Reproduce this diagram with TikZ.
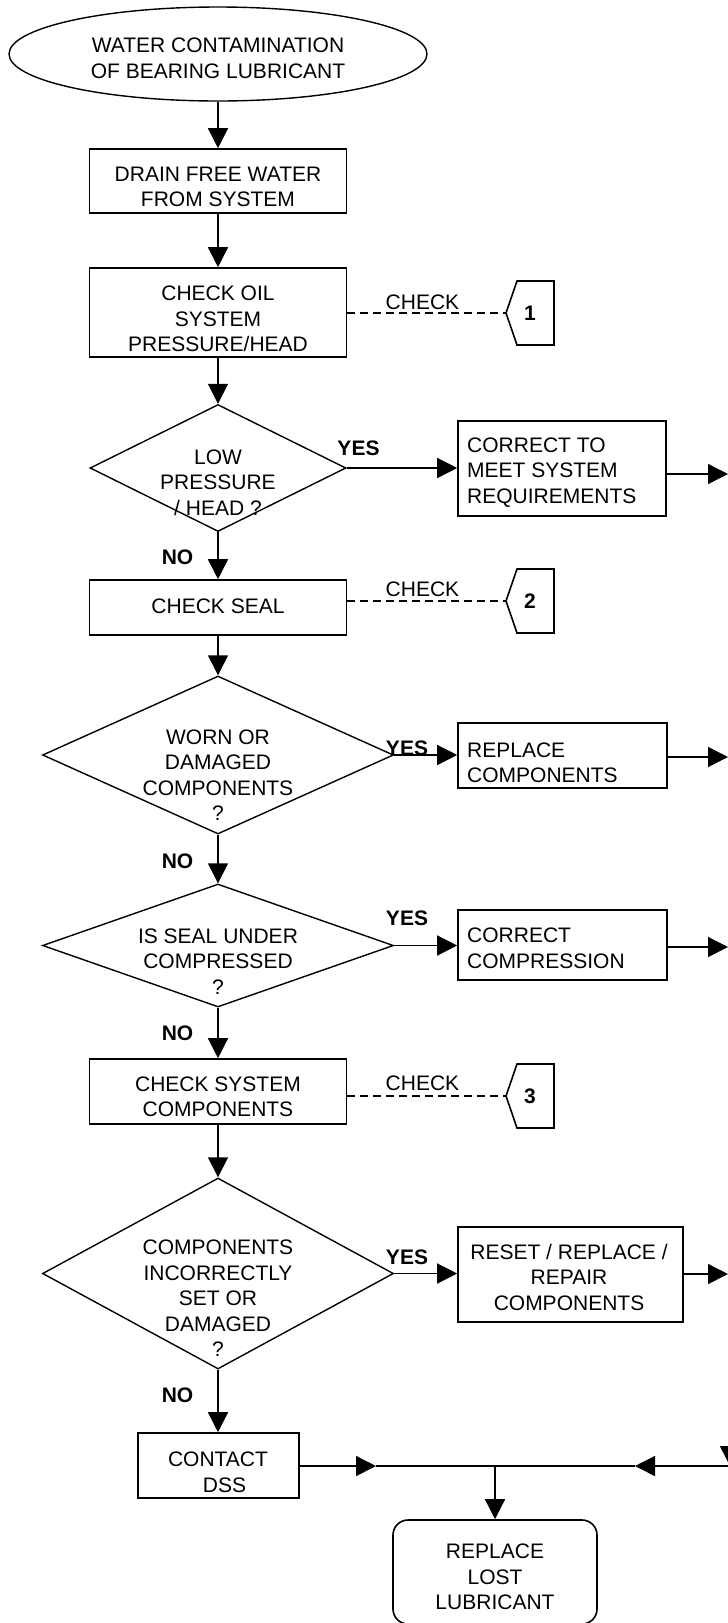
\documentclass[tikz,border=0pt]{standalone}
\usepackage{fontspec}
\setmainfont{Liberation Sans}
\usetikzlibrary{arrows.meta,shapes.geometric}

\begin{document}
\begin{tikzpicture}[x=1pt,y=-1pt,
  every node/.style={font=\fontsize{21}{25.5}\selectfont},
  txt/.style={inner sep=0pt, align=center},
  ltxt/.style={inner sep=0pt, align=left, anchor=west},
  proc/.style={draw, rectangle, line width=1.6pt, inner sep=0pt},
  decision/.style={draw, diamond, line width=1.4pt, inner sep=0pt},
  term/.style={draw, ellipse, line width=1.4pt, inner sep=0pt},
  finalbox/.style={draw, rectangle, rounded corners=15pt, line width=1.6pt, inner sep=0pt},
  flow/.style={line width=1.4pt, -{Triangle[length=20pt,width=20pt]}},
  plain/.style={line width=1.4pt},
  checkline/.style={line width=1.3pt, dash pattern=on 8pt off 5pt},
  callout/.style={line width=1.6pt, line join=miter},
  yn/.style={inner sep=0pt, font=\fontsize{21}{25.5}\selectfont\bfseries},
]
% canvas
\path[fill=white,use as bounding box] (0,0) rectangle (728,1623);

% ---------------- shapes ----------------
\node[term, minimum width=418pt, minimum height=94pt] (start) at (218,54) {};
\node[txt] (starttxt) at (218,58.5) {WATER CONTAMINATION\\OF BEARING LUBRICANT};

\node[proc, minimum width=257pt, minimum height=64pt] (drain) at (218,181) {};
\node[txt] (draintxt) at (218,187) {DRAIN FREE WATER\\FROM SYSTEM};

\node[proc, minimum width=257pt, minimum height=89pt] (oil) at (218,312.5) {};
\node[txt] (oiltxt) at (218,319) {CHECK OIL\\SYSTEM\\PRESSURE/HEAD};

\node[decision, minimum width=256pt, minimum height=127pt] (low) at (218,468) {};
\node[txt] (lowtxt) at (218,482.5) {LOW\\PRESSURE\\/ HEAD ?};

\node[proc, minimum width=257pt, minimum height=55pt] (seal) at (218,607.5) {};
\node[txt] (sealtxt) at (218,606) {CHECK SEAL};

\node[decision, minimum width=351pt, minimum height=158pt] (worn) at (218,755) {};
\node[txt] (worntxt) at (218,775) {WORN OR\\DAMAGED\\COMPONENTS\\?};

\node[decision, minimum width=351pt, minimum height=123pt] (under) at (218,945.5) {};
\node[txt] (undertxt) at (218,961.5) {IS SEAL UNDER\\COMPRESSED\\?};

\node[proc, minimum width=257pt, minimum height=65pt] (sys) at (218,1091.5) {};
\node[txt] (systxt) at (218,1097) {CHECK SYSTEM\\COMPONENTS};

\node[decision, minimum width=351pt, minimum height=191pt] (incorr) at (218,1273.5) {};
\node[txt] (incorrtxt) at (218,1298.5) {COMPONENTS\\INCORRECTLY\\SET OR\\DAMAGED\\?};

\node[proc, minimum width=161pt, minimum height=65pt] (dss) at (218.5,1465.5) {};
\node[txt] (dsstxt) at (218,1472.5) {CONTACT\\\hspace*{13pt}DSS};

% action boxes on the right
\node[proc, minimum width=208pt, minimum height=95pt] (meet) at (562,468.5) {};
\node[ltxt] (meettxt) at (467,472.5) {CORRECT TO\\MEET SYSTEM\\REQUIREMENTS};

\node[proc, minimum width=209pt, minimum height=65pt] (repl) at (562.5,755.5) {};
\node[ltxt] (repltxt) at (467,763) {REPLACE\\COMPONENTS};

\node[proc, minimum width=209pt, minimum height=70pt] (comp) at (562.5,945) {};
\node[ltxt] (comptxt) at (467,948.5) {CORRECT\\COMPRESSION};

\node[proc, minimum width=225pt, minimum height=95pt] (reset) at (570.5,1274.5) {};
\node[txt] (resettxt) at (569,1277) {RESET / REPLACE /\\REPAIR\\COMPONENTS};

\node[finalbox, minimum width=204pt, minimum height=104pt] (lost) at (495,1572) {};
\node[txt] (losttxt) at (495,1577) {REPLACE\\LOST\\LUBRICANT};

% ---------------- check references ----------------
\coordinate (c1) at (506,313);
\coordinate (c2) at (506,601);
\coordinate (c3) at (506,1096);
\foreach \c in {c1,c2,c3}{
  \draw[callout] (\c) -- ++(11,-32) -- ++(37,0) -- ++(0,64) -- ++(-37,0) -- cycle;
}
\node[yn] (n1) at (530,313) {1};
\node[yn] (n2) at (530,601) {2};
\node[yn] (n3) at (530,1096) {3};

\draw[checkline] (oil.east |- c1) -- (c1);
\draw[checkline] (seal.east |- c2) -- (c2);
\draw[checkline] (sys.east |- c3) -- (c3);
\node[txt] (chk1) at (422.5,302) {CHECK};
\node[txt] (chk2) at (422.5,589) {CHECK};
\node[txt] (chk3) at (422.5,1083) {CHECK};

% ---------------- main flow ----------------
\draw[flow] (start.south) -- (drain.north);
\draw[flow] (drain.south) -- (oil.north);
\draw[flow] (oil.south) -- (low.north);
\draw[flow] (low.south) -- (seal.north);
\draw[flow] (seal.south) -- (worn.north);
\draw[flow] (worn.south) -- (under.north);
\draw[flow] (under.south) -- (sys.north);
\draw[flow] (sys.south) -- (incorr.north);
\draw[flow] (incorr.south) -- (dss.north -| incorr.south);

\node[yn] (no1) at (177.5,557) {NO};
\node[yn] (no2) at (177.5,861) {NO};
\node[yn] (no3) at (177.5,1033) {NO};
\node[yn] (no4) at (177.5,1395) {NO};

% yes branches
\draw[flow] (low.east) -- (low.east -| meet.west);
\draw[flow] (worn.east) -- (worn.east -| repl.west);
\draw[flow] (under.east) -- (under.east -| comp.west);
\draw[flow] (incorr.east) -- (incorr.east -| reset.west);

\node[yn] (yes1) at (358.5,448) {YES};
\node[yn] (yes2) at (407,748) {YES};
\node[yn] (yes3) at (407,918) {YES};
\node[yn] (yes4) at (407,1257) {YES};

% returns towards the right-hand collector
\coordinate (x1) at (728,474);
\coordinate (x2) at (728,757);
\coordinate (x3) at (728,947);
\coordinate (x4) at (728,1274);
\draw[flow] (meet.east |- x1) -- (x1);
\draw[flow] (repl.east |- x2) -- (x2);
\draw[flow] (comp.east |- x3) -- (x3);
\draw[flow] (reset.east |- x4) -- (x4);

% bottom collector
\coordinate (j) at (495,1466);
\coordinate (ain) at (376,1466);
\coordinate (bin) at (635,1466);
\coordinate (re) at (730,1466);
\coordinate (rtop) at (730,1420);
\draw[flow] (dss.east |- j) -- (ain);
\draw[plain] (ain) -- (j);
\draw[flow] (rtop) -- (re);
\draw[flow] (re) -- (bin);
\draw[plain] (bin) -- (j);
\draw[flow] (j) -- (lost.north);
\end{tikzpicture}
\end{document}
